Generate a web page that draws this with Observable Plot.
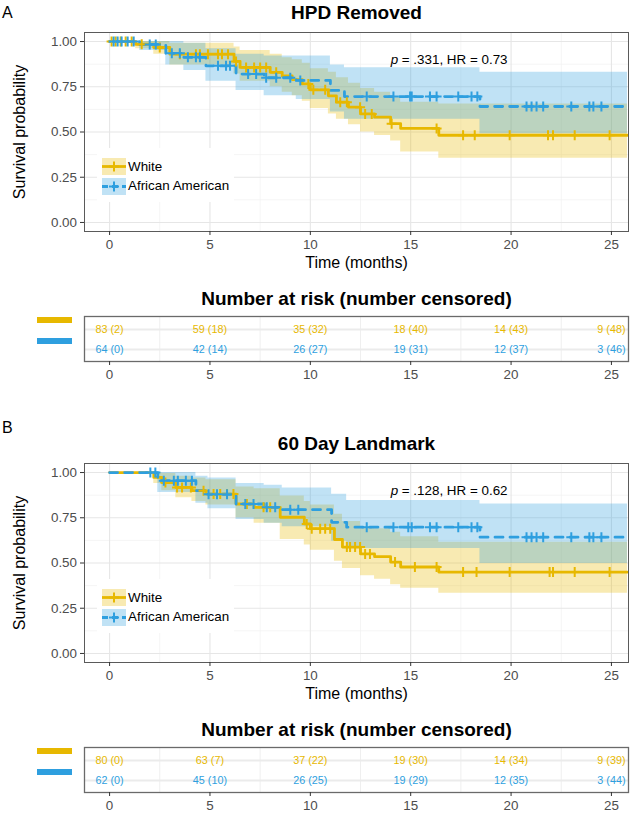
<!DOCTYPE html>
<html><head><meta charset="utf-8">
<script src="https://cdn.jsdelivr.net/npm/d3@7"></script>
<script src="https://cdn.jsdelivr.net/npm/@observablehq/plot@0.6"></script>
<style>
body{margin:0;background:#fff;}
#wrap{position:relative;width:630px;height:823px;font-family:'Liberation Sans',Arial,Helvetica,sans-serif;overflow:hidden;background:#fff;}
.blk{position:absolute;left:0;}
.leg{position:absolute;background:#fff;}
.lab{position:absolute;font-size:13.4px;line-height:16px;color:#000;white-space:nowrap;}
.bar{position:absolute;height:6px;width:35px;}
.plabel{position:absolute;font-size:16px;line-height:18px;color:#000;}
.ylab{position:absolute;width:200px;height:18px;line-height:18px;font-size:16px;text-align:center;color:#000;transform:rotate(-90deg);transform-origin:50% 50%;white-space:nowrap;}
</style></head><body><div id="wrap"></div>
<script>
// ---------- colours / groups ----------
const groupNames = ["White", "African American"];
const groupColors = ["#E7B800", "#2E9FDF"];

// ---------- Panel A : HPD Removed ----------
const aWhiteT  = [0, 1.3, 2.2, 3.0, 6.2, 6.5, 8.0, 8.6, 9.1, 9.6, 10.0, 10.9, 11.3, 11.9, 12.5, 13.2, 14.0, 14.5, 16.4, 25.8];
const aWhiteS  = [1, .985, .967, .93, .89, .857, .83, .81, .79, .766, .733, .70, .665, .637, .60, .582, .546, .52, .482, .482];
const aWhiteLo = [1, .96, .93, .87, .82, .78, .75, .72, .70, .67, .63, .60, .57, .54, .50, .48, .45, .39, .355, .355];
const aWhiteHi = [1, 1, 1, .99, .97, .95, .93, .91, .90, .88, .85, .83, .80, .77, .74, .72, .69, .665, .655, .655];
const aWhiteCens = [0.1, 0.3, 0.55, 0.8, 1.1, 1.6, 2.5, 3.5, 4.3, 4.5, 4.9, 5.4, 5.6, 5.9, 6.3, 6.8, 7.2, 7.5, 7.8, 8.3, 9.9, 10.15, 10.74, 11.49, 11.82, 12.48, 12.73, 13.06, 14.05, 16.29, 17.61, 18.19, 19.93, 21.84, 22.09, 23.17, 24.91];

const aAAT  = [0, 1.5, 2.8, 3.7, 4.8, 6.3, 7.7, 9.3, 11.0, 11.7, 18.45, 25.8];
const aAAS  = [1, .984, .935, .913, .866, .82, .80, .785, .73, .696, .641, .641];
const aAALo = [1, .95, .87, .84, .78, .73, .70, .68, .61, .57, .49, .49];
const aAAHi = [1, 1, 1, .99, .96, .93, .92, .92, .87, .855, .83, .83];
const aAACens = [0.2, 0.4, 0.6, 0.9, 1.2, 2.0, 2.3, 3.1, 3.5, 3.9, 4.3, 4.5, 5.4, 5.8, 6.0, 6.9, 7.3, 7.8, 8.3, 9.0, 9.5, 12.81, 14.14, 14.97, 15.05, 15.96, 16.29, 17.37, 18.03, 18.32, 20.77, 21.02, 21.27, 21.6, 23.0, 23.9, 24.1, 24.5];

// ---------- Panel B : 60 Day Landmark ----------
const bWhiteT  = [0, 2.2, 2.6, 3.3, 4.1, 4.8, 6.3, 7.2, 8.5, 9.7, 10.0, 11.2, 11.6, 12.5, 13.2, 14.0, 14.5, 16.4, 25.8];
const bWhiteS  = [1, .973, .945, .918, .90, .881, .826, .808, .753, .716, .69, .63, .588, .55, .535, .505, .478, .45, .45];
const bWhiteLo = [1, .94, .90, .86, .84, .82, .75, .72, .63, .60, .57, .51, .47, .43, .41, .38, .36, .333, .333];
const bWhiteHi = [1, 1, .995, .98, .97, .96, .92, .91, .87, .84, .82, .77, .73, .70, .69, .67, .645, .615, .615];
const bWhiteCens = [2.78, 3.36, 3.61, 4.05, 4.68, 5.18, 5.51, 5.85, 6.17, 6.84, 7.67, 8.0, 9.82, 10.07, 10.49, 10.74, 10.99, 11.82, 11.98, 12.23, 12.48, 12.73, 12.97, 14.22, 15.21, 16.29, 17.61, 18.28, 19.93, 21.92, 22.09, 23.17, 24.91];

const bAAT  = [0, 2.4, 4.3, 4.9, 6.3, 7.7, 8.6, 11.06, 11.81, 18.45, 25.8];
const bAAS  = [1, .955, .90, .88, .826, .808, .795, .725, .698, .643, .643];
const bAALo = [1, .89, .83, .80, .74, .72, .70, .62, .58, .497, .497];
const bAAHi = [1, 1, .98, .97, .94, .93, .915, .88, .845, .826, .826];
const bAACens = [2.03, 2.28, 2.7, 3.2, 3.4, 3.8, 4.1, 4.93, 5.35, 5.85, 6.76, 7.17, 7.83, 8.25, 9.0, 9.4, 12.81, 14.14, 14.88, 15.05, 15.96, 16.29, 17.37, 18.03, 18.32, 20.77, 21.02, 21.27, 21.6, 23.0, 23.9, 24.1, 24.5];

// ---------- Risk tables ----------
const riskTimes = [0, 5, 10, 15, 20, 25];
const aWhiteRisk = [83, 59, 35, 18, 14, 9];  const aWhiteCensN = [2, 18, 32, 40, 43, 48];
const aAARisk    = [64, 42, 26, 19, 12, 3];  const aAACensN    = [0, 14, 27, 31, 37, 46];
const bWhiteRisk = [80, 63, 37, 19, 14, 9];  const bWhiteCensN = [0, 7, 22, 30, 34, 39];
const bAARisk    = [62, 45, 26, 19, 12, 3];  const bAACensN    = [0, 10, 25, 29, 35, 44];

// ---------- axes ----------
const xDomain = [-1.25, 25.85];
const majorX = [0, 5, 10, 15, 20, 25];
const minorX = [2.5, 7.5, 12.5, 17.5, 22.5];
const majorY = [0, 0.25, 0.5, 0.75, 1];
const minorY = [0.125, 0.375, 0.625, 0.875];

const FONT = "'Liberation Sans', Arial, Helvetica, sans-serif";
const plusSym = {draw(ctx, size) { const r = Math.sqrt(size / Math.PI); ctx.moveTo(-r, 0); ctx.lineTo(r, 0); ctx.moveTo(0, -r); ctx.lineTo(0, r); }};

function rows(T, S, Lo, Hi) { return T.map((t, i) => ({t, s: S[i], lo: Lo[i], hi: Hi[i]})); }
function stepAt(T, S, t) { let v = S[0]; for (let i = 0; i < T.length; i++) if (T[i] <= t) v = S[i]; return v; }
function cens(C, T, S) { return C.map(t => ({t, s: stepAt(T, S, t)})); }

function panelPlot(title, statText, groups) {
  const marks = [
    Plot.frame({fill: "white"}),
    Plot.ruleX(minorX, {stroke: "#f3f3f3", strokeWidth: 0.8}),
    Plot.ruleY(minorY, {stroke: "#f3f3f3", strokeWidth: 0.8}),
    Plot.ruleX(majorX, {stroke: "#e6e6e6", strokeWidth: 1.1}),
    Plot.ruleY(majorY, {stroke: "#e6e6e6", strokeWidth: 1.1})
  ];
  for (const g of groups) marks.push(Plot.areaY(g.rows, {x: "t", y1: "lo", y2: "hi", curve: "step-after", fill: g.color, fillOpacity: 0.3}));
  for (const g of groups) marks.push(Plot.line(g.rows, {x: "t", y: "s", curve: "step-after", stroke: g.color, strokeWidth: 2.8, strokeDasharray: g.dash}));
  for (const g of groups) marks.push(Plot.dot(g.cens, {x: "t", y: "s", symbol: plusSym, r: 5, stroke: g.color, strokeWidth: 2, fill: "none"}));
  marks.push(
    Plot.frame({stroke: "#5a5a5a", strokeWidth: 1}),
    Plot.axisY(majorY, {tickFormat: d3.format(".2f"), tickSize: 4, tickPadding: 3.5, label: null, fill: "#4d4d4d", stroke: "#333", fontSize: 13.4}),
    Plot.axisX(majorX, {tickSize: 4, tickPadding: 4, label: null, fill: "#4d4d4d", stroke: "#333", fontSize: 13.4}),
    Plot.text([title], {frameAnchor: "top", dy: -19.5, lineAnchor: "middle", fontWeight: "bold", fontSize: 19, fill: "#000"}),
    Plot.text(["Time (months)"], {frameAnchor: "bottom", dy: 31, lineAnchor: "middle", fontSize: 16, fill: "#000"}),
    Plot.text([{x: 14, y: 0.9}], {x: "x", y: "y", text: () => "p", textAnchor: "start", fontStyle: "italic", fontSize: 13.4, fill: "#000"}),
    Plot.text([{x: 14, y: 0.9}], {x: "x", y: "y", text: () => statText, dx: 11.2, textAnchor: "start", fontSize: 13.4, fill: "#000"})
  );
  return Plot.plot({
    width: 630, height: 280,
    marginLeft: 84, marginRight: 2, marginTop: 32, marginBottom: 49,
    x: {domain: xDomain},
    y: {domain: [-0.05, 1.05]},
    style: {fontFamily: FONT, fontSize: "13.4px", background: "transparent", color: "#000"},
    marks
  });
}

function tablePlot(groupsRisk) {
  const marks = [
    Plot.frame({fill: "white"}),
    Plot.ruleX(minorX, {stroke: "#efefef", strokeWidth: 1}),
    Plot.ruleY(groupNames, {stroke: "#ebebeb", strokeWidth: 2})
  ];
  groupsRisk.forEach((g, k) => {
    const data = riskTimes.map((t, i) => ({t, g: groupNames[k], label: `${g.risk[i]} (${g.cens[i]})`}));
    marks.push(Plot.text(data, {x: "t", y: "g", text: "label", fill: groupColors[k], fontSize: 10.8}));
  });
  marks.push(
    Plot.frame({stroke: "#6a6a6a", strokeWidth: 1.3}),
    Plot.axisX(majorX, {tickSize: 4, tickPadding: 4, label: null, fill: "#4d4d4d", stroke: "#333", fontSize: 13.4}),
    Plot.text(["Number at risk (number censored)"], {frameAnchor: "top", dy: -18, lineAnchor: "middle", fontWeight: "bold", fontSize: 19, fill: "#000"})
  );
  return Plot.plot({
    width: 630, height: 112,
    marginLeft: 84, marginRight: 2, marginTop: 36, marginBottom: 31,
    x: {domain: xDomain},
    y: {type: "point", domain: groupNames, padding: 0.6, axis: null},
    style: {fontFamily: FONT, fontSize: "13.4px", background: "transparent", color: "#000"},
    marks
  });
}

const wrap = document.getElementById("wrap");
function place(el, top) { const d = document.createElement("div"); d.className = "blk"; d.style.top = top + "px"; d.appendChild(el); wrap.appendChild(d); }
function html(s) { const d = document.createElement("div"); d.innerHTML = s; wrap.appendChild(d.firstElementChild); }

function keySvg(color, dash) {
  return `<svg width="24" height="17" style="position:absolute;left:0;top:0">
    <rect x="0" y="0" width="24" height="17" fill="${color}" fill-opacity="0.3"/>
    <line x1="0" x2="24" y1="8.5" y2="8.5" stroke="${color}" stroke-width="2.8" ${dash ? `stroke-dasharray="${dash}"` : ""}/>
    <path d="M7,8.5H17M12,3.5V13.5" stroke="${color}" stroke-width="2" fill="none"/></svg>`;
}
function legend(top) {
  html(`<div class="leg" style="left:97px;top:${top + 148}px;width:137px;height:54px"></div>`);
  html(`<div style="position:absolute;left:102px;top:${top + 158}px;width:24px;height:17px">${keySvg(groupColors[0], null)}</div>`);
  html(`<div style="position:absolute;left:102px;top:${top + 177.5}px;width:24px;height:17px">${keySvg(groupColors[1], "6,4")}</div>`);
  html(`<div class="lab" style="left:128px;top:${top + 158.5}px">${groupNames[0]}</div>`);
  html(`<div class="lab" style="left:128px;top:${top + 177.5}px">${groupNames[1]}</div>`);
}
function bars(top) {
  html(`<div class="bar" style="left:37px;top:${top + 317}px;background:${groupColors[0]}"></div>`);
  html(`<div class="bar" style="left:37px;top:${top + 338}px;background:${groupColors[1]}"></div>`);
}

const panels = [
  {top: 0, letter: "A", letterTop: 3.5, title: "HPD Removed", stat: "= .331, HR = 0.73",
   groups: [
     {color: groupColors[0], dash: undefined, rows: rows(aWhiteT, aWhiteS, aWhiteLo, aWhiteHi), cens: cens(aWhiteCens, aWhiteT, aWhiteS)},
     {color: groupColors[1], dash: "8,7", rows: rows(aAAT, aAAS, aAALo, aAAHi), cens: cens(aAACens, aAAT, aAAS)}
   ],
   risk: [{risk: aWhiteRisk, cens: aWhiteCensN}, {risk: aAARisk, cens: aAACensN}]},
  {top: 431, letter: "B", letterTop: 419, title: "60 Day Landmark", stat: "= .128, HR = 0.62",
   groups: [
     {color: groupColors[0], dash: undefined, rows: rows(bWhiteT, bWhiteS, bWhiteLo, bWhiteHi), cens: cens(bWhiteCens, bWhiteT, bWhiteS)},
     {color: groupColors[1], dash: "8,7", rows: rows(bAAT, bAAS, bAALo, bAAHi), cens: cens(bAACens, bAAT, bAAS)}
   ],
   risk: [{risk: bWhiteRisk, cens: bWhiteCensN}, {risk: bAARisk, cens: bAACensN}]}
];

for (const p of panels) {
  place(panelPlot(p.title, p.stat, p.groups), p.top);
  place(tablePlot(p.risk), p.top + 280);
  legend(p.top);
  bars(p.top);
  html(`<div class="ylab" style="left:-80px;top:${p.top + 122.5}px">Survival probability</div>`);
  html(`<div class="plabel" style="left:2px;top:${p.letterTop}px">${p.letter}</div>`);
}
</script></body></html>
